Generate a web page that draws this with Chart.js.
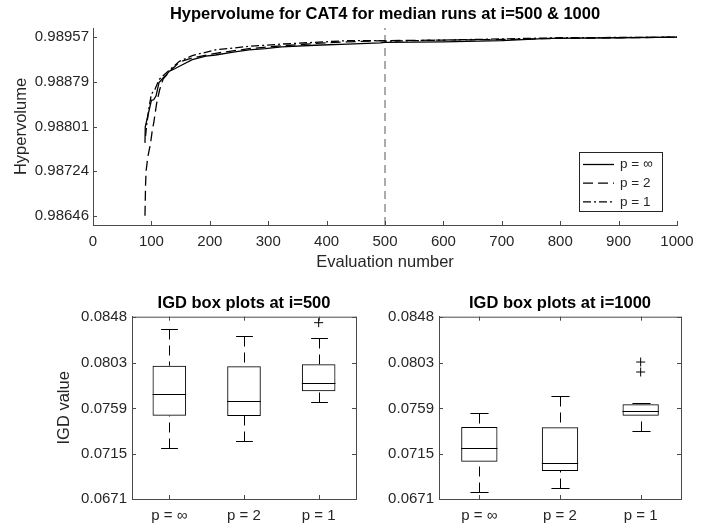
<!DOCTYPE html>
<html>
<head>
<meta charset="utf-8">
<script src="https://cdn.jsdelivr.net/npm/chart.js@4.4.0/dist/chart.umd.min.js"></script>
<style>
  body { margin: 0; background: #fff; }
  #wrap { position: relative; width: 702px; height: 528px; overflow: hidden; }
  canvas { position: absolute; }
</style>
</head>
<body>
<div id="wrap">
  <canvas id="hvChart" width="702" height="272" style="left:0;top:0"></canvas>
  <canvas id="igd500" width="362" height="258" style="left:0;top:270px"></canvas>
  <canvas id="igd1000" width="340" height="258" style="left:362px;top:270px"></canvas>
</div>
<script>
// --- hypervolume of the median runs ---
const hvInfEvals  = [89, 89.5, 95, 100, 104, 108, 113, 120, 125, 131, 140, 153, 170, 193, 210, 240, 267, 295, 323, 380, 436, 492, 500, 600, 700, 780, 900, 1000];
const hvInfValues = [0.98773, 0.98801, 0.98825, 0.98847, 0.98848, 0.98855, 0.98878, 0.98886, 0.98891, 0.98898, 0.98902, 0.98909, 0.98918, 0.98924, 0.98926, 0.98931, 0.98935, 0.98937, 0.98940, 0.98943, 0.98945, 0.98947, 0.98948, 0.98949, 0.98951, 0.98955, 0.98956, 0.98957];

const hvTwoEvals  = [89, 90, 91, 94, 98.5, 101.5, 104, 109, 114, 120, 131, 148, 170, 210, 267, 323, 380, 436, 500, 600, 700, 800, 1000];
const hvTwoValues = [0.98646, 0.98700, 0.98725, 0.98749, 0.98772, 0.98795, 0.98808, 0.98842, 0.98865, 0.98884, 0.98897, 0.98914, 0.98921, 0.98929, 0.98937, 0.98942, 0.98946, 0.98949, 0.98951, 0.98952, 0.98953, 0.98955, 0.98957];

const hvOneEvals  = [90, 92, 96, 100, 106, 113, 120, 131, 148, 170, 210, 267, 323, 380, 436, 492, 500, 600, 700, 800, 1000];
const hvOneValues = [0.98785, 0.98805, 0.98835, 0.98858, 0.98866, 0.98883, 0.98890, 0.98900, 0.98915, 0.98925, 0.98935, 0.98941, 0.98945, 0.98948, 0.98951, 0.98951, 0.98950, 0.98952, 0.98954, 0.98956, 0.98957];

const evalTicks = [0, 100, 200, 300, 400, 500, 600, 700, 800, 900, 1000];
const hvTicks = [0.98646, 0.98724, 0.98801, 0.98879, 0.98957];
const hvMin = 0.98630, hvMax = 0.98973;
const splitEval = 500;

// --- IGD box plots ---
const pLabels = ['p = ∞', 'p = 2', 'p = 1'];
const igdTicks = [0.0671, 0.0715, 0.0759, 0.0803, 0.0848];

const i500Low    = [0.07202, 0.07270, 0.07649];
const i500Q1     = [0.07519, 0.07516, 0.07756];
const i500Median = [0.07732, 0.07662, 0.07833];
const i500Q3     = [0.08004, 0.07998, 0.08018];
const i500High   = [0.08364, 0.08290, 0.08270];
const i500Outliers = [{ x: 'p = 1', y: 0.08422 }];

const i1000Low    = [0.06778, 0.06814, 0.07367];
const i1000Q1     = [0.07072, 0.06982, 0.07519];
const i1000Median = [0.07202, 0.07057, 0.07562];
const i1000Q3     = [0.07409, 0.07406, 0.07630];
const i1000High   = [0.07542, 0.07707, 0.07642];
const i1000Outliers = [{ x: 'p = 1', y: 0.08040 }, { x: 'p = 1', y: 0.07943 }];

const FONT = "'Liberation Sans', Arial, Helvetica, sans-serif";
const INK = '#262626';
const AXIS = '#4a4a4a';
const TICK = 4;

Chart.defaults.font.family = FONT;
Chart.defaults.font.size = 15;
Chart.defaults.color = INK;

// inward tick marks, plus top/right edges when boxed
function axisFrame(boxed) {
  return {
    id: 'axisFrame',
    afterDatasetsDraw(chart) {
      const { ctx, chartArea: a, scales: { x, y } } = chart;
      ctx.save();
      ctx.strokeStyle = AXIS;
      ctx.lineWidth = 1;
      ctx.beginPath();
      if (boxed) {
        ctx.moveTo(a.left, a.top + 0.5); ctx.lineTo(a.right + 0.5, a.top + 0.5);
        ctx.moveTo(a.right + 0.5, a.top); ctx.lineTo(a.right + 0.5, a.bottom);
      }
      x.ticks.forEach((t, i) => {
        const px = Math.round(x.getPixelForTick(i)) + 0.5;
        ctx.moveTo(px, a.bottom); ctx.lineTo(px, a.bottom - TICK);
        if (boxed) { ctx.moveTo(px, a.top); ctx.lineTo(px, a.top + TICK); }
      });
      y.ticks.forEach((t, i) => {
        const py = Math.round(y.getPixelForTick(i)) + 0.5;
        ctx.moveTo(a.left, py); ctx.lineTo(a.left + TICK, py);
        if (boxed) { ctx.moveTo(a.right, py); ctx.lineTo(a.right - TICK, py); }
      });
      ctx.stroke();
      ctx.restore();
    }
  };
}

// boxed legend in the lower right corner of the plot
const lineLegend = {
  id: 'lineLegend',
  afterDraw(chart) {
    const { ctx, chartArea: a } = chart;
    const w = 83, h = 59;
    const bx = Math.round(a.right - 15 - w), by = Math.round(a.bottom - 14 - h);
    ctx.save();
    ctx.fillStyle = '#fff';
    ctx.fillRect(bx, by, w, h);
    ctx.strokeStyle = INK;
    ctx.lineWidth = 1;
    ctx.strokeRect(bx + 0.5, by + 0.5, w, h);
    ctx.font = '13.5px ' + FONT;
    ctx.textBaseline = 'middle';
    chart.data.datasets.slice(0, 3).forEach((ds, i) => {
      const cy = by + 12.5 + i * 18.7;
      ctx.setLineDash(ds.borderDash || []);
      ctx.strokeStyle = ds.borderColor;
      ctx.lineWidth = ds.borderWidth;
      ctx.beginPath();
      ctx.moveTo(bx + 4, cy); ctx.lineTo(bx + 35, cy);
      ctx.stroke();
      ctx.setLineDash([]);
      ctx.fillStyle = INK;
      ctx.fillText(ds.label, bx + 41, cy);
    });
    ctx.restore();
  }
};

function hvSeries(label, evals, values, dash) {
  return {
    label,
    data: evals.map((e, i) => ({ x: e, y: values[i] })),
    borderColor: '#000',
    borderWidth: 1.3,
    borderDash: dash,
    pointRadius: 0,
    tension: 0
  };
}

new Chart(document.getElementById('hvChart'), {
  type: 'line',
  data: {
    datasets: [
      hvSeries('p = ∞', hvInfEvals, hvInfValues, []),
      hvSeries('p = 2', hvTwoEvals, hvTwoValues, [10, 5]),
      hvSeries('p = 1', hvOneEvals, hvOneValues, [8, 3, 2, 3]),
      {
        label: 'i = 500',
        data: [{ x: splitEval, y: hvMin }, { x: splitEval, y: hvMax }],
        borderColor: '#595959',
        borderWidth: 1,
        borderDash: [8, 5],
        pointRadius: 0
      }
    ]
  },
  options: {
    responsive: false,
    animation: false,
    layout: { padding: { left: 0, right: 20, top: 0, bottom: 0 } },
    plugins: {
      legend: { display: false },
      tooltip: { enabled: false },
      title: {
        display: true,
        fullSize: false,
        text: 'Hypervolume for CAT4 for median runs at i=500 & 1000',
        color: '#000',
        font: { size: 16.5, weight: 'bold' },
        padding: { top: 5, bottom: 3.2 }
      }
    },
    scales: {
      x: {
        type: 'linear',
        min: 0,
        max: 1000,
        afterBuildTicks: s => { s.ticks = evalTicks.map(v => ({ value: v })); },
        afterFit: s => { s.height = 47; },
        grid: { display: false, drawTicks: false },
        border: { color: AXIS, width: 1 },
        ticks: { padding: 8.3, color: INK, maxRotation: 0, callback: v => String(v) },
        title: { display: true, text: 'Evaluation number', font: { size: 16.5 }, color: INK, padding: { top: 0, bottom: 0 } }
      },
      y: {
        type: 'linear',
        min: hvMin,
        max: hvMax,
        afterBuildTicks: s => { s.ticks = hvTicks.map(v => ({ value: v })); },
        afterFit: s => { s.width = 93; },
        grid: { display: false, drawTicks: false },
        border: { color: AXIS, width: 1 },
        ticks: { padding: 4, color: INK, callback: v => v.toFixed(5) },
        title: { display: true, text: 'Hypervolume', font: { size: 16.5 }, color: INK, padding: { top: 11.8, bottom: 0 } }
      }
    }
  },
  plugins: [axisFrame(false), lineLegend]
});

// whiskers, caps and medians on top of the floating-bar boxes
function boxParts(low, median, high) {
  return {
    id: 'boxParts',
    afterDatasetsDraw(chart) {
      const { ctx, scales: { y } } = chart;
      const bars = chart.getDatasetMeta(0).data;
      ctx.save();
      ctx.strokeStyle = '#000';
      ctx.lineWidth = 1;
      bars.forEach((bar, i) => {
        const cx = Math.round(bar.x) + 0.5;
        const half = bar.width / 2;
        const raw = chart.data.datasets[0].data[i];
        const yLo = Math.round(y.getPixelForValue(low[i])) + 0.5;
        const yHi = Math.round(y.getPixelForValue(high[i])) + 0.5;
        const yQ1 = y.getPixelForValue(raw[0]);
        const yQ3 = y.getPixelForValue(raw[1]);
        const yMed = Math.round(y.getPixelForValue(median[i])) + 0.5;
        ctx.setLineDash([10, 6]);
        ctx.beginPath();
        ctx.moveTo(cx, yHi); ctx.lineTo(cx, yQ3);
        ctx.moveTo(cx, yLo); ctx.lineTo(cx, yQ1);
        ctx.stroke();
        ctx.setLineDash([]);
        ctx.beginPath();
        ctx.moveTo(cx - half / 2, yHi); ctx.lineTo(cx + half / 2, yHi);
        ctx.moveTo(cx - half / 2, yLo); ctx.lineTo(cx + half / 2, yLo);
        ctx.moveTo(bar.x - half, yMed); ctx.lineTo(bar.x + half, yMed);
        ctx.stroke();
      });
      ctx.restore();
    }
  };
}

function igdChart(id, title, low, q1, median, q3, high, outliers, axisWidth, padRight, yTitle) {
  return new Chart(document.getElementById(id), {
    type: 'bar',
    data: {
      labels: pLabels,
      datasets: [
        {
          label: 'IQR',
          data: q1.map((v, i) => [v, q3[i]]),
          backgroundColor: 'rgba(255,255,255,0)',
          borderColor: '#000',
          borderWidth: 1,
          borderSkipped: false,
          barPercentage: 0.45,
          categoryPercentage: 1
        },
        {
          type: 'line',
          label: 'outliers',
          data: outliers,
          showLine: false,
          pointStyle: 'cross',
          pointRadius: 4.5,
          borderColor: '#000',
          borderWidth: 1
        }
      ]
    },
    options: {
      responsive: false,
      animation: false,
      layout: { padding: { left: 0, right: padRight, top: 0, bottom: 0 } },
      plugins: {
        legend: { display: false },
        tooltip: { enabled: false },
        title: {
          display: true,
          fullSize: false,
          text: title,
          color: '#000',
          font: { size: 16.5, weight: 'bold' },
          padding: { top: 23.4, bottom: 3.5 }
        }
      },
      scales: {
        x: {
          afterFit: s => { s.height = 29; },
          grid: { display: false, drawTicks: false },
          border: { color: AXIS, width: 1 },
          ticks: { padding: 8, color: INK }
        },
        y: {
          min: igdTicks[0],
          max: igdTicks[igdTicks.length - 1],
          afterBuildTicks: s => { s.ticks = igdTicks.map(v => ({ value: v })); },
          afterFit: s => { s.width = axisWidth; },
          grid: { display: false, drawTicks: false },
          border: { color: AXIS, width: 1 },
          ticks: { padding: 5, color: INK, callback: v => v.toFixed(4) },
          title: { display: !!yTitle, text: yTitle, font: { size: 16.5 }, color: INK, padding: { top: 55, bottom: 0 } }
        }
      }
    },
    plugins: [boxParts(low, median, high), axisFrame(true)]
  });
}

igdChart('igd500', 'IGD box plots at i=500', i500Low, i500Q1, i500Median, i500Q3, i500High, i500Outliers, 132, 6, 'IGD value');
igdChart('igd1000', 'IGD box plots at i=1000', i1000Low, i1000Q1, i1000Median, i1000Q3, i1000High, i1000Outliers, 77, 21, '');
</script>
</body>
</html>
